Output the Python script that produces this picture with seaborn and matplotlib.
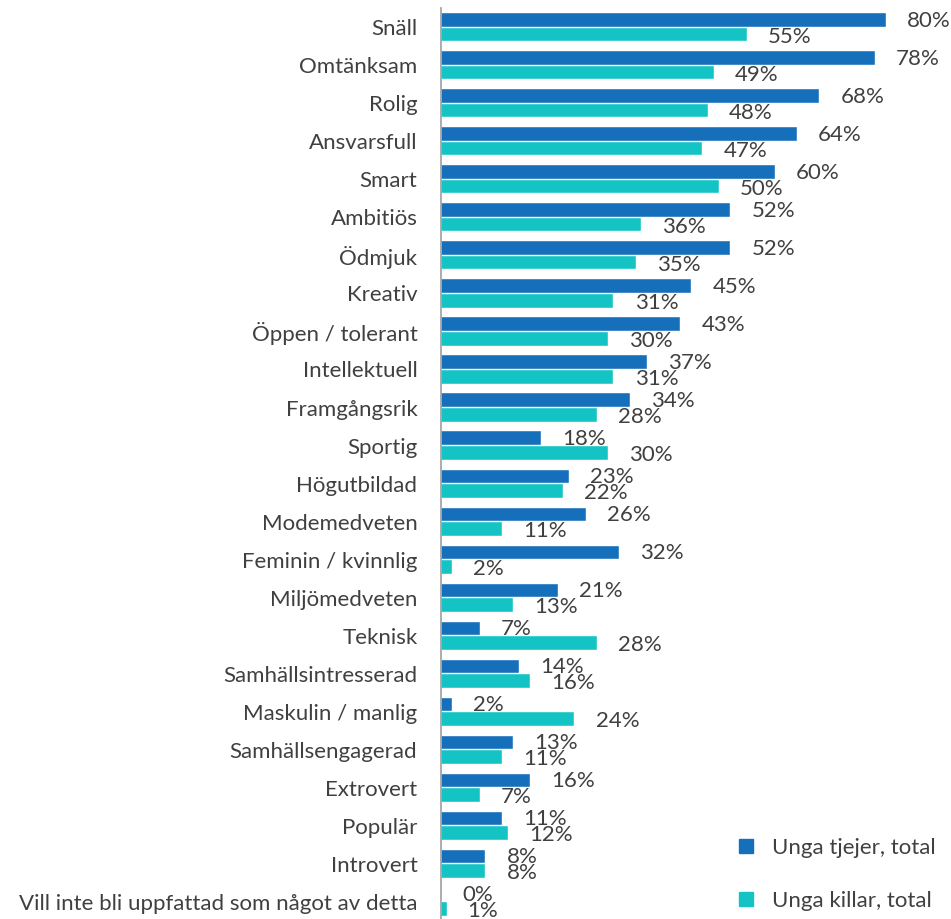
import pandas as pd
import matplotlib.pyplot as plt
from matplotlib.lines import Line2D
import seaborn as sns

categories = ["Snäll", "Omtänksam", "Rolig", "Ansvarsfull", "Smart", "Ambitiös",
              "Ödmjuk", "Kreativ", "Öppen / tolerant", "Intellektuell", "Framgångsrik",
              "Sportig", "Högutbildad", "Modemedveten", "Feminin / kvinnlig",
              "Miljömedveten", "Teknisk", "Samhällsintresserad", "Maskulin / manlig",
              "Samhällsengagerad", "Extrovert", "Populär", "Introvert",
              "Vill inte bli uppfattad som något av detta"]
tjejer = [80, 78, 68, 64, 60, 52, 52, 45, 43, 37, 34, 18, 23, 26, 32, 21, 7, 14, 2, 13, 16, 11, 8, 0]
killar = [55, 49, 48, 47, 50, 36, 35, 31, 30, 31, 28, 30, 22, 11, 2, 13, 28, 16, 24, 11, 7, 12, 8, 1]
series = ["Unga tjejer, total", "Unga killar, total"]
colors = ["#156FBA", "#14C4C4"]

df = pd.DataFrame({
    "kategori": categories * 2,
    "andel": tjejer + killar,
    "grupp": [series[0]] * len(categories) + [series[1]] * len(categories),
})

sns.set_style("white")
plt.rcParams["font.family"] = ["Lato", "DejaVu Sans"]
text_color = "#404040"
fs = 16

fig = plt.figure(figsize=(9.51, 9.19), dpi=100)
ax = fig.add_axes([441 / 951, -0.002, 510 / 951, 0.993])

sns.barplot(data=df, y="kategori", x="andel", hue="grupp", palette=colors,
            saturation=1, orient="h", width=0.77, gap=0.08, ax=ax, legend=False,
            edgecolor="white", linewidth=0.3)

ax.set_xlim(0, 91.7)
ax.set_ylim(len(categories) - 0.5, -0.5)
ax.set_xlabel("")
ax.set_ylabel("")
ax.set_xticks([])
ax.tick_params(axis="y", length=0, pad=17, labelsize=fs, labelcolor=text_color)
for s in ["top", "right", "bottom"]:
    ax.spines[s].set_visible(False)
ax.spines["left"].set_color("#A6A6A6")
ax.spines["left"].set_linewidth(1.3)

for i, (a, b) in enumerate(zip(tjejer, killar)):
    ax.text(a + 3.8, i - 0.17, f"{a}%", va="center", ha="left", fontsize=fs,
            color=text_color, clip_on=False)
    ax.text(b + 3.8, i + 0.25, f"{b}%", va="center", ha="left", fontsize=fs,
            color=text_color, clip_on=False)

handles = [Line2D([], [], marker="s", linestyle="", markersize=10, color=c) for c in colors]
ax.legend(handles, series, loc="lower left", bbox_to_anchor=(0.545, -0.004),
          frameon=False, fontsize=fs, labelspacing=1.5, handletextpad=0.6,
          handlelength=1.2, borderpad=0.1, labelcolor=text_color)

fig.savefig("out.png", dpi=100)
